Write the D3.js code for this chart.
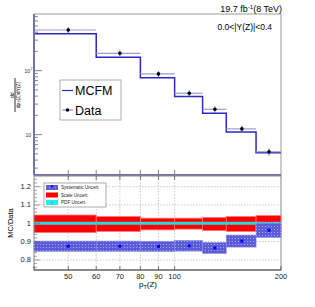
<!DOCTYPE html>
<html>
<head>
<meta charset="utf-8">
<script src="https://cdn.jsdelivr.net/npm/d3@7"></script>
<style>
  body { margin: 0; background: #fff; }
  text { font-family: "Liberation Sans", Arial, sans-serif; }
</style>
</head>
<body>
<svg id="chart" width="315" height="307"></svg>
<script>
// bin edges in pT(Z) [GeV]
const binEdges = [40, 60, 80, 100, 120, 140, 170, 200];
const binCenters = [50, 70, 90, 110, 130, 155, 185];
// cross section values (top panel)
const dataValues = [432, 187, 89, 44.4, 24.9, 12.3, 5.4];
const dataErrors = [45, 19, 9, 4.8, 2.8, 1.5, 0.7];
const mcfmValues = [379, 162, 77.8, 39.3, 21.6, 11.0, 5.2];
// ratio panel
const ratioValues = [0.875, 0.875, 0.874, 0.877, 0.865, 0.903, 0.962];
const systErrors = [0.028, 0.028, 0.028, 0.029, 0.03, 0.033, 0.039];
const scaleCenter = [0.997, 0.996, 0.996, 0.998, 0.996, 0.996, 1.0];
const scaleErrors = [0.048, 0.041, 0.032, 0.03, 0.036, 0.041, 0.042];
const pdfErrors = [0.008, 0.008, 0.008, 0.008, 0.008, 0.008, 0.008];
const xTicks = [50, 60, 70, 80, 90, 100, 200];
const ratioTicks = [0.8, 0.9, 1, 1.1, 1.2];

const svg = d3.select("#chart");
const left = 34, right = 281;
const top1 = 14, bot1 = 175, top2 = 176, bot2 = 270;

const x = d3.scaleLog().domain([40, 200]).range([left, right]);
const y = d3.scaleLog().domain([2.34, 769]).range([bot1, top1]);
const yr = d3.scaleLinear().domain([0.745, 1.258]).range([bot2, top2]);

// ---------- defs ----------
const pat = svg.append("defs").append("pattern")
  .attr("id", "dots").attr("patternUnits", "userSpaceOnUse")
  .attr("width", 3).attr("height", 3);
pat.append("rect").attr("width", 3).attr("height", 3).attr("fill", "#5c5cd8");
pat.append("rect").attr("x", 1).attr("y", 1).attr("width", 1).attr("height", 1).attr("fill", "#a4a4f0");

const bins = d3.range(binCenters.length);

// ---------- top panel ----------
const g1 = svg.append("g");
g1.append("rect").attr("x", left).attr("y", top1).attr("width", right - left).attr("height", bot1 - top1)
  .attr("fill", "none").attr("stroke", "#999").attr("stroke-width", 1);

// minor/major ticks on left axis
const yTickVals = [];
[1, 10, 100].forEach(d => d3.range(1, 10).forEach(k => {
  const v = d * k;
  if (v >= 2.34 && v <= 769) yTickVals.push(v);
}));
g1.selectAll(".ytk").data(yTickVals).join("line")
  .attr("x1", left).attr("x2", d => left + (d === 10 || d === 100 ? 8 : 4))
  .attr("y1", d => y(d)).attr("y2", d => y(d))
  .attr("stroke", "#666").attr("stroke-width", 0.8);
g1.selectAll(".xtk").data(xTicks.slice(0, 6)).join("line")
  .attr("x1", d => x(d)).attr("x2", d => x(d))
  .attr("y1", bot1).attr("y2", bot1 - 5)
  .attr("stroke", "#666").attr("stroke-width", 0.8);

g1.append("text").attr("x", 30).attr("y", y(100) + 2).attr("text-anchor", "end")
  .attr("font-size", 5).attr("fill", "#333").text("10");
g1.append("text").attr("x", 30.5).attr("y", y(100) - 1).attr("font-size", 3.5).attr("fill", "#333").text("2");
g1.append("text").attr("x", 31).attr("y", y(10) + 2).attr("text-anchor", "end")
  .attr("font-size", 5).attr("fill", "#333").text("10");

// MCFM step histogram
const stepPts = [];
bins.forEach(i => {
  stepPts.push([x(binEdges[i]), y(mcfmValues[i])]);
  stepPts.push([x(binEdges[i + 1]), y(mcfmValues[i])]);
});
g1.append("path").attr("d", d3.line()(stepPts))
  .attr("fill", "none").attr("stroke", "#2a2ac0").attr("stroke-width", 1.5);

// data x-error bars
g1.selectAll(".xerr").data(bins).join("line")
  .attr("x1", i => x(binEdges[i])).attr("x2", i => x(binEdges[i + 1]))
  .attr("y1", i => y(dataValues[i])).attr("y2", i => y(dataValues[i]))
  .attr("stroke", "#9a9ad8").attr("stroke-width", 1.2);
g1.selectAll(".yerr").data(bins).join("line")
  .attr("x1", i => x(binCenters[i])).attr("x2", i => x(binCenters[i]))
  .attr("y1", i => y(dataValues[i] - dataErrors[i])).attr("y2", i => y(dataValues[i] + dataErrors[i]))
  .attr("stroke", "#5a5ab8").attr("stroke-width", 1);
g1.selectAll(".pt").data(bins).join("circle")
  .attr("cx", i => x(binCenters[i])).attr("cy", i => y(dataValues[i]))
  .attr("r", 1.8).attr("fill", "#000");

// left and bottom axes in blue-gray
g1.append("line").attr("x1", left).attr("x2", left).attr("y1", top1).attr("y2", bot1)
  .attr("stroke", "#7474a8").attr("stroke-width", 2);
g1.append("line").attr("x1", left).attr("x2", right).attr("y1", bot1).attr("y2", bot1)
  .attr("stroke", "#7474a8").attr("stroke-width", 2);

// legend
const lg = g1.append("g");
lg.append("rect").attr("x", 60).attr("y", 80).attr("width", 61).attr("height", 40)
  .attr("fill", "#fff").attr("stroke", "#999").attr("stroke-width", 0.8);
lg.append("line").attr("x1", 62).attr("x2", 73).attr("y1", 90.5).attr("y2", 90.5)
  .attr("stroke", "#2a2ac0").attr("stroke-width", 1.2);
lg.append("text").attr("x", 75).attr("y", 95).attr("font-size", 12.5).text("MCFM");
lg.append("line").attr("x1", 62).attr("x2", 73).attr("y1", 110).attr("y2", 110)
  .attr("stroke", "#7a7ac8").attr("stroke-width", 1);
lg.append("circle").attr("cx", 67.5).attr("cy", 110).attr("r", 1.8).attr("fill", "#000");
lg.append("text").attr("x", 75).attr("y", 114.5).attr("font-size", 12.5).text("Data");

// y title (fraction)
const yt = svg.append("g").attr("transform", "translate(15,95) rotate(-90)");
yt.append("line").attr("x1", -17).attr("x2", 17).attr("y1", 0).attr("y2", 0)
  .attr("stroke", "#000").attr("stroke-width", 0.8);
yt.append("text").attr("x", 0).attr("y", -1.5).attr("text-anchor", "middle").attr("font-size", 5)
  .text("dσ");
yt.append("text").attr("x", 0).attr("y", 5).attr("text-anchor", "middle").attr("font-size", 5)
  .html('dp<tspan font-size="3.5" dy="1.2">T</tspan><tspan dy="-1.2">(Z)dY(Z)</tspan>');

// header texts
svg.append("text").attr("x", 282).attr("y", 12).attr("text-anchor", "end").attr("font-size", 9)
  .html('19.7 fb<tspan font-size="6" dy="-3.5">-1</tspan><tspan dy="3.5">(8 TeV)</tspan>');
svg.append("text").attr("x", 272).attr("y", 30).attr("text-anchor", "end").attr("font-size", 8.5)
  .text("0.0<|Y(Z)|<0.4");

// ---------- ratio panel ----------
const g2 = svg.append("g");
g2.append("rect").attr("x", left).attr("y", top2).attr("width", right - left).attr("height", bot2 - top2)
  .attr("fill", "#fff").attr("stroke", "#888").attr("stroke-width", 1);

// grid
g2.selectAll(".gx").data(xTicks.slice(0, 6)).join("line")
  .attr("x1", d => x(d)).attr("x2", d => x(d)).attr("y1", top2).attr("y2", bot2)
  .attr("stroke", "#bbb").attr("stroke-width", 0.8).attr("stroke-dasharray", "1.5,1.5");
g2.selectAll(".gy").data(ratioTicks).join("line")
  .attr("x1", left).attr("x2", right).attr("y1", d => yr(d)).attr("y2", d => yr(d))
  .attr("stroke", "#bbb").attr("stroke-width", 0.8).attr("stroke-dasharray", "1.5,1.5");

// scale band
g2.selectAll(".scale").data(bins).join("rect")
  .attr("x", i => x(binEdges[i])).attr("width", i => x(binEdges[i + 1]) - x(binEdges[i]))
  .attr("y", i => yr(scaleCenter[i] + scaleErrors[i]))
  .attr("height", i => yr(scaleCenter[i] - scaleErrors[i]) - yr(scaleCenter[i] + scaleErrors[i]))
  .attr("fill", "#ff0000").attr("stroke", "#ff7a7a").attr("stroke-width", 0.8);
// pdf band
g2.selectAll(".pdf").data(bins).join("rect")
  .attr("x", i => x(binEdges[i])).attr("width", i => x(binEdges[i + 1]) - x(binEdges[i]))
  .attr("y", i => yr(1 + pdfErrors[i]))
  .attr("height", i => yr(1 - pdfErrors[i]) - yr(1 + pdfErrors[i]))
  .attr("fill", "#22dddd");
// systematic band
g2.selectAll(".syst").data(bins).join("rect")
  .attr("x", i => x(binEdges[i])).attr("width", i => x(binEdges[i + 1]) - x(binEdges[i]))
  .attr("y", i => yr(ratioValues[i] + systErrors[i]))
  .attr("height", i => yr(ratioValues[i] - systErrors[i]) - yr(ratioValues[i] + systErrors[i]))
  .attr("fill", "url(#dots)").attr("stroke", "#8a8ae6").attr("stroke-width", 0.6);
g2.selectAll(".rpt").data(bins).join("rect")
  .attr("x", i => x(binCenters[i]) - 1.5).attr("y", i => yr(ratioValues[i]) - 1.5)
  .attr("width", 3).attr("height", 3).attr("fill", "#0000ff");

// axes ticks
const minorR = d3.range(0.76, 1.26, 0.02);
g2.selectAll(".rtk").data(minorR).join("line")
  .attr("x1", left).attr("x2", d => left + (ratioTicks.some(t => Math.abs(t - d) < 1e-6) ? 6 : 3))
  .attr("y1", d => yr(d)).attr("y2", d => yr(d))
  .attr("stroke", "#666").attr("stroke-width", 0.6);
g2.selectAll(".rtl").data(ratioTicks).join("text")
  .attr("x", 31).attr("y", d => yr(d) + 2.5).attr("text-anchor", "end")
  .attr("font-size", 7.5).attr("fill", "#222").text(d => d);

const xMinor = [40, 50, 60, 70, 80, 90, 100, 200];
g2.selectAll(".xtk2").data(xMinor).join("line")
  .attr("x1", d => x(d)).attr("x2", d => x(d)).attr("y1", bot2).attr("y2", bot2 - 4)
  .attr("stroke", "#444").attr("stroke-width", 0.7);
g2.selectAll(".xtk3").data(xTicks.slice(0, 6)).join("line")
  .attr("x1", d => x(d)).attr("x2", d => x(d)).attr("y1", top2).attr("y2", top2 + 4)
  .attr("stroke", "#444").attr("stroke-width", 0.7);
g2.append("line").attr("x1", left).attr("x2", right).attr("y1", bot2).attr("y2", bot2)
  .attr("stroke", "#333").attr("stroke-width", 0.8);
g2.selectAll(".xtl").data(xTicks).join("text")
  .attr("x", d => x(d)).attr("y", 279).attr("text-anchor", "middle")
  .attr("font-size", 7.5).attr("fill", "#222").text(d => d);

svg.append("text").attr("x", 148).attr("y", 287).attr("text-anchor", "middle").attr("font-size", 8)
  .html('p<tspan font-size="5.5" dy="2">T</tspan><tspan dy="-2">(Z)</tspan>');
svg.append("text").attr("transform", "translate(13,223) rotate(-90)").attr("text-anchor", "middle")
  .attr("font-size", 7.5).text("MC/Data");

// ratio legend
const rl = g2.append("g");
rl.append("rect").attr("x", 44).attr("y", 183).attr("width", 62).attr("height", 24)
  .attr("fill", "#fff").attr("stroke", "#888").attr("stroke-width", 0.7);
const legItems = [
  { label: "Systematic Uncert.", fill: "url(#dots)" },
  { label: "Scale Uncert.", fill: "#ff0000" },
  { label: "PDF Uncert.", fill: "#22eeee" }
];
legItems.forEach((d, i) => {
  const cy = 187.5 + i * 7.5;
  rl.append("rect").attr("x", 46).attr("y", cy - 2.5).attr("width", 12).attr("height", 5).attr("fill", d.fill);
  rl.append("text").attr("x", 61).attr("y", cy + 1.7).attr("font-size", 4.6).attr("fill", "#222").text(d.label);
});
rl.append("rect").attr("x", 51).attr("y", 185.5).attr("width", 2).attr("height", 2).attr("fill", "#0000ff");
rl.append("circle").attr("cx", 52).attr("cy", 202.5).attr("r", 0.5).attr("fill", "#4444aa");
</script>
</body>
</html>
